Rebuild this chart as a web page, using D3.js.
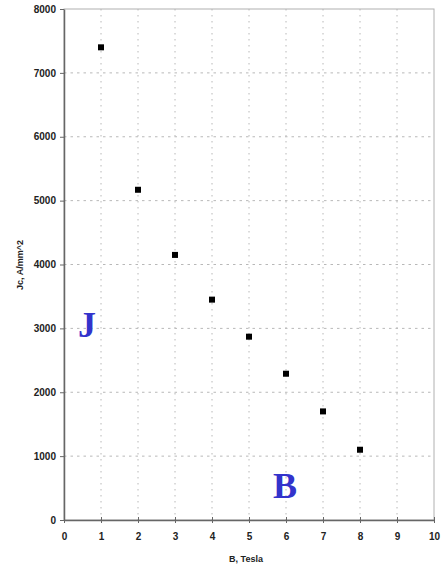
<!DOCTYPE html>
<html><head><meta charset="utf-8">
<script src="https://cdn.jsdelivr.net/npm/d3@7"></script>
<style>body{margin:0;background:#fff}svg{display:block}</style>
</head><body>
<script>
const fieldB = [1, 2, 3, 4, 5, 6, 7, 8];
const jc = [7400, 5170, 4150, 3450, 2870, 2290, 1700, 1100];
const xTicks = [0,1,2,3,4,5,6,7,8,9,10];
const yTicks = [0,1000,2000,3000,4000,5000,6000,7000,8000];

const W = 443, H = 571;
const svg = d3.select("body").append("svg").attr("width", W).attr("height", H);
const x = d3.scaleLinear().domain([0,10]).range([64,434]);
const y = d3.scaleLinear().domain([0,8000]).range([520,9]);

// grid
svg.append("g").selectAll("line").data(xTicks.slice(1,-1)).join("line")
  .attr("x1", d=>x(d)).attr("x2", d=>x(d)).attr("y1", y(8000)).attr("y2", y(0))
  .attr("stroke", "#b8b8b8").attr("stroke-width", 1).attr("stroke-dasharray", "1.5,4.5");
svg.append("g").selectAll("line").data(yTicks.slice(1,-1)).join("line")
  .attr("x1", x(0)).attr("x2", x(10)).attr("y1", d=>y(d)).attr("y2", d=>y(d))
  .attr("stroke", "#b8b8b8").attr("stroke-width", 1).attr("stroke-dasharray", "2.5,4");

// frame
svg.append("rect").attr("x", x(0)).attr("y", y(8000)).attr("width", x(10)-x(0)).attr("height", y(0)-y(8000))
  .attr("fill", "none").attr("stroke", "#b0b0b0").attr("stroke-width", 1);

// axes
const xAxis = svg.append("g").attr("transform", `translate(0,${y(0)})`)
  .call(d3.axisBottom(x).tickValues(xTicks).tickFormat(d3.format("d")).tickSizeInner(3).tickSizeOuter(0).tickPadding(10));
xAxis.selectAll(".tick line").attr("y1", -3).attr("y2", 3);
const yAxis = svg.append("g").attr("transform", `translate(${x(0)},0)`)
  .call(d3.axisLeft(y).tickValues(yTicks).tickFormat(d3.format("d")).tickSizeInner(4).tickSizeOuter(0).tickPadding(4));
[xAxis, yAxis].forEach(a => {
  a.select(".domain").attr("stroke", "#666").attr("stroke-width", 1.5);
  a.selectAll(".tick line").attr("stroke", "#666");
  a.selectAll("text").attr("font-family", "Liberation Sans, Arial, sans-serif")
    .attr("font-size", 10).attr("font-weight", "bold").attr("fill", "#222");
});

// points
svg.append("g").selectAll("rect").data(fieldB.map((b,i)=>[b,jc[i]])).join("rect")
  .attr("x", d=>x(d[0])-3).attr("y", d=>y(d[1])-3).attr("width", 6).attr("height", 6).attr("fill", "#000");

// axis titles
svg.append("text").attr("x", 246).attr("y", 562).text("B, Tesla")
  .attr("font-family", "Liberation Sans, Arial, sans-serif").attr("font-size", 9).attr("font-weight", "bold").attr("fill", "#222")
  .attr("text-anchor", "middle");
svg.append("text").attr("transform", "translate(23,265) rotate(-90)").attr("text-anchor", "middle").text("Jc, A/mm^2")
  .attr("font-family", "Liberation Sans, Arial, sans-serif").attr("font-size", 9).attr("font-weight", "bold").attr("fill", "#222");

// big letters
svg.append("text").attr("x", 78).attr("y", 337).text("J")
  .attr("font-family", "Liberation Serif, Times New Roman, serif").attr("font-size", 36).attr("font-weight", "bold").attr("fill", "#3333cc");
svg.append("text").attr("x", 273).attr("y", 498).text("B")
  .attr("font-family", "Liberation Serif, Times New Roman, serif").attr("font-size", 36).attr("font-weight", "bold").attr("fill", "#3333cc");
</script>
</body></html>
